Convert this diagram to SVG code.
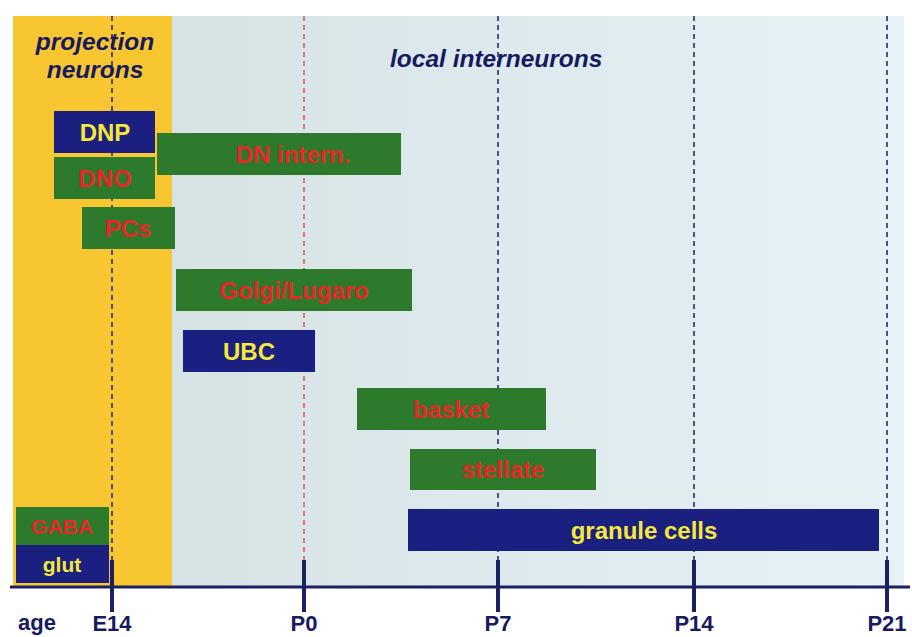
<svg xmlns="http://www.w3.org/2000/svg" width="912" height="637" viewBox="0 0 912 637">
<defs>
<linearGradient id="bg" x1="0" y1="0" x2="1" y2="0">
<stop offset="0" stop-color="#d6e2e4"/>
<stop offset="1" stop-color="#e6f2f6"/>
</linearGradient>
<style>
.g{fill:#2e7a2c}
.n{fill:#1b2080}
.t{font-family:"Liberation Sans",Arial,sans-serif;font-weight:bold;font-size:24px;text-anchor:middle}
.r{fill:#e8262a}
.y{fill:#f5e83a}
.h{font-family:"Liberation Sans",Arial,sans-serif;font-weight:bold;font-style:italic;font-size:24.5px;fill:#161a60}
.ax{font-family:"Liberation Sans",Arial,sans-serif;font-weight:bold;font-size:22px;fill:#161a60;text-anchor:middle}
.dn{stroke:#1b2060;stroke-width:1.5;stroke-dasharray:5 4;fill:none}
.dr{stroke:#e03030;stroke-width:1.2;stroke-dasharray:5 4;fill:none}
.tk{stroke:#1b2060;stroke-width:4}
</style>
</defs>
<rect width="912" height="637" fill="#ffffff"/>
<rect x="172" y="16" width="732" height="570" fill="url(#bg)"/>
<rect x="13" y="16" width="159" height="570" fill="#f8c630"/>
<g id="connectors">
<line class="dn" x1="112" y1="16" x2="112" y2="560"/>
<line class="dr" x1="304" y1="16" x2="304" y2="560"/>
<line class="dn" x1="498" y1="16" x2="498" y2="560"/>
<line class="dn" x1="694" y1="16" x2="694" y2="560"/>
<line class="dn" x1="887" y1="16" x2="887" y2="560"/>
<line x1="10" y1="587" x2="910" y2="587" stroke="#1b2060" stroke-width="3"/>
<line class="tk" x1="112" y1="560" x2="112" y2="612"/>
<line class="tk" x1="304" y1="560" x2="304" y2="612"/>
<line class="tk" x1="498" y1="560" x2="498" y2="612"/>
<line class="tk" x1="694" y1="560" x2="694" y2="612"/>
<line class="tk" x1="887" y1="560" x2="887" y2="612"/>
</g>
<g id="headers">
<text class="h" x="95" y="50" text-anchor="middle">projection</text>
<text class="h" x="95" y="78" text-anchor="middle">neurons</text>
<text class="h" x="390" y="67">local interneurons</text>
</g>
<g id="DNP"><rect class="n" x="54" y="111" width="101" height="42"/><text class="t y" x="105" y="141">DNP</text></g>
<g id="DNO"><rect class="g" x="54" y="157" width="101" height="42"/><text class="t r" x="105" y="187">DNO</text></g>
<g id="DNintern"><rect class="g" x="157" y="133" width="244" height="42"/><text class="t r" x="293" y="163">DN intern.</text></g>
<g id="PCs"><rect class="g" x="82" y="207" width="93" height="42"/><text class="t r" x="128" y="237">PCs</text></g>
<g id="Golgi"><rect class="g" x="176" y="269" width="236" height="42"/><text class="t r" x="294" y="299">Golgi/Lugaro</text></g>
<g id="UBC"><rect class="n" x="183" y="330" width="132" height="42"/><text class="t y" x="249" y="360">UBC</text></g>
<g id="basket"><rect class="g" x="357" y="388" width="189" height="42"/><text class="t r" x="451" y="418">basket</text></g>
<g id="stellate"><rect class="g" x="410" y="449" width="186" height="41"/><text class="t r" x="503" y="478">stellate</text></g>
<g id="granule"><rect class="n" x="408" y="509" width="471" height="42"/><text class="t y" x="644" y="539">granule cells</text></g>
<g id="legend">
<rect class="g" x="16" y="507" width="93" height="38"/><text class="t r" x="62" y="534" style="font-size:21px">GABA</text>
<rect class="n" x="16" y="545" width="93" height="38"/><text class="t y" x="62" y="572" style="font-size:21px">glut</text>
</g>
<g id="axis-labels">
<text class="ax" x="37" y="630">age</text>
<text class="ax" x="112" y="631">E14</text>
<text class="ax" x="304" y="631">P0</text>
<text class="ax" x="498" y="631">P7</text>
<text class="ax" x="694" y="631">P14</text>
<text class="ax" x="887" y="631">P21</text>
</g>
</svg>
